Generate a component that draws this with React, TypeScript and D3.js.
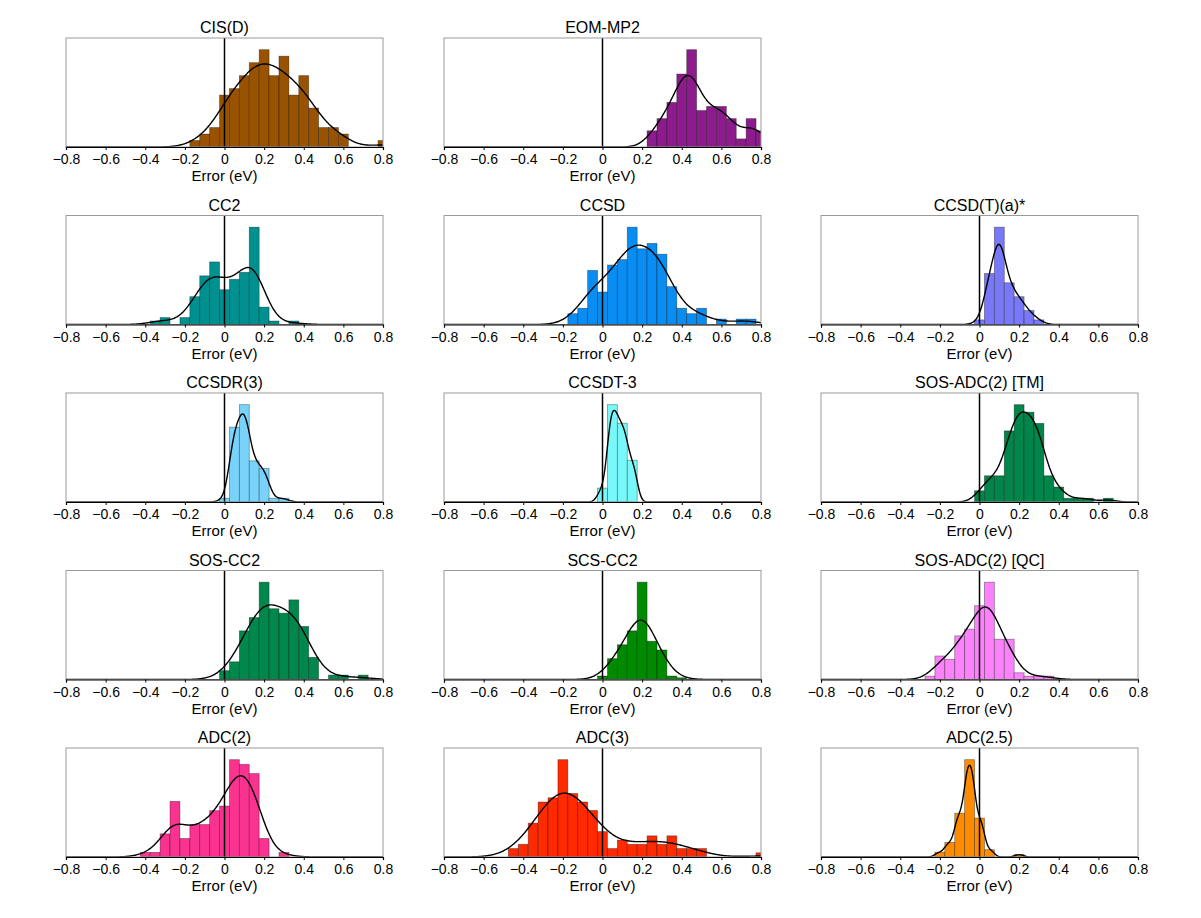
import React, { useEffect, useRef } from "react";
import * as d3 from "d3";

// histogram of errors (eV) per method, bins 0.05 wide, first bin centre given in firstBin
const methods = [
  "CIS(D)", "EOM-MP2",
  "CC2", "CCSD", "CCSD(T)(a)*",
  "CCSDR(3)", "CCSDT-3", "SOS-ADC(2) [TM]",
  "SOS-CC2", "SCS-CC2", "SOS-ADC(2) [QC]",
  "ADC(2)", "ADC(3)", "ADC(2.5)",
];
const colors = [
  "#985200", "#8e1b8e",
  "#009090", "#0a8df2", "#7878f8",
  "#78d2fa", "#78f8f8", "#00854a",
  "#00884c", "#008a00", "#fc82fc",
  "#fa3390", "#ff2a00", "#ff8c00",
];
const firstBin = [
  -0.15, 0.25,
  -0.35, -0.15, 0.0,
  0.0, 0.0, 0.0,
  0.0, 0.0, -0.25,
  -0.4, -0.45, -0.2,
];
// KDE bandwidth relative to Scott's rule
const kdeWidth = [
  1.0, 0.9,
  1.2, 1.0, 0.9,
  0.9, 0.9, 0.9,
  1.4, 1.8, 1.2,
  1.0, 1.0, 0.55,
];

const cisD = [1, 2, 3, 8, 9, 11, 13, 15, 11, 14, 8, 11, 6, 3, 3, 2, 0, 0, 0, 1];
const eomMp2 = [4, 7, 11, 18, 24, 9, 10, 10, 7, 2, 7, 4];
const cc2 = [1, 2, 0, 2, 8, 14, 18, 10, 13, 15, 28, 5, 1, 0, 1];
const ccsd = [2, 3, 10, 6, 11, 12, 18, 14, 15, 13, 7, 3, 2, 3, 0, 1, 0, 1, 1];
const ccsdTa = [1, 11, 21, 9, 6, 3, 1];
const ccsdr3 = [1, 20, 26, 11, 9, 1, 1];
const ccsdt3 = [3, 21, 17, 9];
const sosAdc2Tm = [3, 7, 7, 19, 26, 24, 21, 7, 4, 1, 1, 1, 0, 1];
const sosCc2 = [2, 4, 11, 14, 22, 16, 15, 18, 12, 5, 0, 1, 1, 0, 1];
const scsCc2 = [1, 6, 10, 14, 28, 11, 8.5, 1, 0.5];
const sosAdc2Qc = [1, 7, 6, 13, 15, 22, 29, 12, 12, 2, 1, 1, 1];
const adc2 = [1, 1, 5, 12, 4, 7, 7, 10, 11, 21, 20, 18, 4, 0, 1];
const adc3 = [2, 3, 8, 13, 14, 23, 15, 13, 11, 6, 2, 4, 3, 3, 5, 3, 5, 2, 2, 2, 0, 0, 0, 0, 0, 1];
const adc25 = [1, 3, 9, 20, 8, 1.5, 0, 0, 0.5];

const counts = [
  cisD, eomMp2,
  cc2, ccsd, ccsdTa,
  ccsdr3, ccsdt3, sosAdc2Tm,
  sosCc2, scsCc2, sosAdc2Qc,
  adc2, adc3, adc25,
];

const majorTicks = [-0.8, -0.6, -0.4, -0.2, 0, 0.2, 0.4, 0.6, 0.8];
const minorTicks = [-0.7, -0.5, -0.3, -0.1, 0.1, 0.3, 0.5, 0.7];
const binWidth = 0.05;

// grid slot of each panel (top right slot stays empty)
const slots = [0, 1, 3, 4, 5, 6, 7, 8, 9, 10, 11, 12, 13, 14];

function erf(v: number) {
  const s = Math.sign(v);
  const a = Math.abs(v);
  const t = 1 / (1 + 0.3275911 * a);
  const p =
    ((((1.061405429 * t - 1.453152027) * t + 1.421413741) * t - 0.284496736) * t + 0.254829592) * t;
  return s * (1 - p * Math.exp(-a * a));
}
const Phi = (z: number) => 0.5 * (1 + erf(z / Math.SQRT2));

export default function App() {
  const ref = useRef<SVGSVGElement>(null);

  useEffect(() => {
    const svg = d3.select(ref.current);
    svg.selectAll("*").remove();

    const colX = [66, 444, 821];
    const rowY = [38, 215.5, 393, 570.5, 748];
    const boxW = 317;
    const boxH = 109;
    const font = "'Liberation Sans', Arial, Helvetica, sans-serif";

    const x = d3.scaleLinear().domain([-0.8, 0.8]).range([0, boxW]);

    methods.forEach((name, i) => {
      const slot = slots[i];
      const g = svg
        .append("g")
        .attr("transform", `translate(${colX[slot % 3]},${rowY[Math.floor(slot / 3)]})`);

      const bins = counts[i].map((v, k) => ({ c: firstBin[i] + k * binWidth, v }));
      const ymax = (d3.max(bins, d => d.v) as number) * 1.12;
      const y = d3.scaleLinear().domain([0, ymax]).range([boxH, 0]);

      const clipId = "clip" + i;
      g.append("clipPath")
        .attr("id", clipId)
        .append("rect")
        .attr("width", boxW)
        .attr("height", boxH);

      const plot = g.append("g").attr("clip-path", `url(#${clipId})`);

      plot
        .selectAll("rect.bar")
        .data(bins.filter(d => d.v > 0))
        .enter()
        .append("rect")
        .attr("class", "bar")
        .attr("x", d => x(d.c - binWidth / 2))
        .attr("width", d => x(d.c + binWidth / 2) - x(d.c - binWidth / 2))
        .attr("y", d => y(d.v))
        .attr("height", d => boxH - y(d.v))
        .attr("fill", colors[i])
        .attr("stroke", "#000")
        .attr("stroke-opacity", 0.4)
        .attr("stroke-width", 0.8);

      // gaussian KDE of the binned data, each bin spread evenly, in counts per bin
      const n = d3.sum(bins, d => d.v);
      const mean = d3.sum(bins, d => d.v * d.c) / n;
      const sd = Math.sqrt(d3.sum(bins, d => d.v * (d.c - mean) ** 2) / (n - 1));
      const h = kdeWidth[i] * sd * Math.pow(n, -0.2);
      const grid = d3.range(0, 401).map(k => -0.8 + k * 0.004);
      const kde = grid.map(gx => [
        gx,
        d3.sum(
          bins,
          d => d.v * (Phi((gx - d.c + binWidth / 2) / h) - Phi((gx - d.c - binWidth / 2) / h))
        ),
      ]);

      // zero line
      plot
        .append("line")
        .attr("x1", x(0))
        .attr("x2", x(0))
        .attr("y1", 0)
        .attr("y2", boxH)
        .attr("stroke", "#000")
        .attr("stroke-width", 1.5);

      plot
        .append("path")
        .datum(kde)
        .attr("fill", "none")
        .attr("stroke", "#000")
        .attr("stroke-width", 1.4)
        .attr(
          "d",
          d3
            .line<number[]>()
            .curve(d3.curveBasis)
            .x(d => x(d[0]))
            .y(d => y(d[1]))
        );

      g.append("rect")
        .attr("width", boxW)
        .attr("height", boxH)
        .attr("fill", "none")
        .attr("stroke", "#9a9a9a")
        .attr("stroke-width", 1);

      // x axis
      const axis = g.append("g").attr("transform", `translate(0,${boxH})`);
      axis.call(
        d3
          .axisBottom(x)
          .tickValues(minorTicks)
          .tickSize(2)
          .tickFormat(() => "")
      );
      axis.call(
        d3
          .axisBottom(x)
          .tickValues(majorTicks)
          .tickSize(3)
          .tickPadding(4.5)
          .tickFormat(d3.format("~g") as any)
      );
      axis.selectAll("path.domain").attr("stroke", "#000").attr("stroke-width", 1.2);
      axis.selectAll("text").attr("font-family", font).attr("font-size", 14).attr("fill", "#000");

      g.append("text")
        .attr("x", boxW / 2)
        .attr("y", -5)
        .attr("text-anchor", "middle")
        .attr("font-family", font)
        .attr("font-size", 16)
        .text(name);

      g.append("text")
        .attr("x", boxW / 2)
        .attr("y", boxH + 34)
        .attr("text-anchor", "middle")
        .attr("font-family", font)
        .attr("font-size", 15)
        .text("Error (eV)");
    });
  }, []);

  return (
    <svg
      ref={ref}
      width={1201}
      height={918}
      style={{ position: "absolute", left: 0, top: 0, background: "#fff" }}
    />
  );
}
